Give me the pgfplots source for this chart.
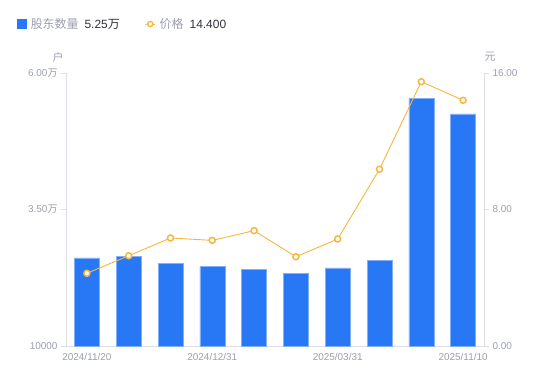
\documentclass[border=0pt]{standalone}
\usepackage{pgfplots}
\pgfplotsset{compat=1.18}
\usepackage{fontspec}
\setmainfont{Liberation Sans}
\newfontfamily\cjk{Noto Sans CJK SC}
\definecolor{barblue}{RGB}{40,120,245}
\definecolor{baredge}{RGB}{130,175,250}
\definecolor{lineor}{RGB}{247,182,62}
\definecolor{tickgrey}{RGB}{155,158,175}
\definecolor{axisgrey}{RGB}{222,222,228}
\definecolor{dark}{RGB}{50,50,60}
\pgfplotsset{
  shortline legend/.style={legend image code/.code={\draw[mark repeat=2,mark phase=2,##1] plot coordinates {(0bp,0bp)(5bp,0bp)(10bp,0bp)};}},
  square legend/.style={legend image code/.code={\fill[barblue] (0bp,-4.5bp) rectangle (9bp,4.5bp);}},
}
\begin{document}
\begin{tikzpicture}
\useasboundingbox (0,0) rectangle (550bp,381bp);
\pgfplotsset{every axis/.append style={scale only axis, width=418bp, height=273bp,
  at={(66bp,35bp)}, anchor=south west, xmin=0.5, xmax=10.5, clip=false,
  scaled y ticks=false,
  tick label style={font=\fontsize{10}{12}\selectfont, text=tickgrey},
  axis line style={draw=axisgrey, line width=0.8bp, -},
  major tick length=5bp, tick align=outside}}
\begin{axis}[
  ymin=10000, ymax=60000,
  axis x line*=bottom, axis y line*=left,
  ytick={10000,35000,60000},
  yticklabels={10000, 3.50{\cjk 万}, 6.00{\cjk 万}},
  xtick={1,4,7,10},
  xticklabels={2024/11/20,2024/12/31,2025/03/31,2025/11/10},
  xtick style={draw=none},
  ytick style={draw=axisgrey, line width=0.8bp},
  xticklabel style={yshift=1bp},
  legend style={at={(-0.1244,1.1795)}, anchor=west, draw=none, fill=none,
    legend columns=-1, font=\fontsize{12}{14}\selectfont,
    /tikz/every even column/.append style={column sep=23bp}},
]
\addplot[ybar, bar width=25bp, fill=barblue, draw=baredge, line width=0.6bp, square legend]
  coordinates {(1,26120) (2,26480) (3,25150) (4,24600) (5,24100) (6,23320) (7,24290) (8,25750) (9,55370) (10,52500)};
\addlegendentry{\hspace{2bp}{\cjk\color{tickgrey}股东数量}\hspace{6bp}{\color{dark}5.25{\cjk 万}}}
\addlegendimage{color=lineor, line width=0.9bp, mark=*, mark size=2.6bp,
  mark options={fill=white, draw=lineor, line width=1.4bp}, shortline legend}
\addlegendentry{\hspace{2bp}{\cjk\color{tickgrey}价格}\hspace{6bp}{\color{dark}14.400}}
\end{axis}
\begin{axis}[
  ymin=0, ymax=16,
  axis x line=none, axis y line*=right,
  ytick={0,8,16},
  yticklabels={0.00,8.00,16.00},
  ytick style={draw=axisgrey, line width=0.8bp},
]
\addplot[color=lineor, line width=0.9bp, mark=*, mark size=3bp,
  mark options={fill=white, draw=lineor, line width=1.5bp}]
  coordinates {(1,4.26) (2,5.29) (3,6.33) (4,6.19) (5,6.76) (6,5.23) (7,6.27) (8,10.36) (9,15.49) (10,14.40)};
\end{axis}
\node[font=\cjk\fontsize{11}{13}\selectfont, text=tickgrey] at (58bp,324bp) {户};
\node[font=\cjk\fontsize{11}{13}\selectfont, text=tickgrey] at (490bp,324bp) {元};
\end{tikzpicture}
\end{document}
